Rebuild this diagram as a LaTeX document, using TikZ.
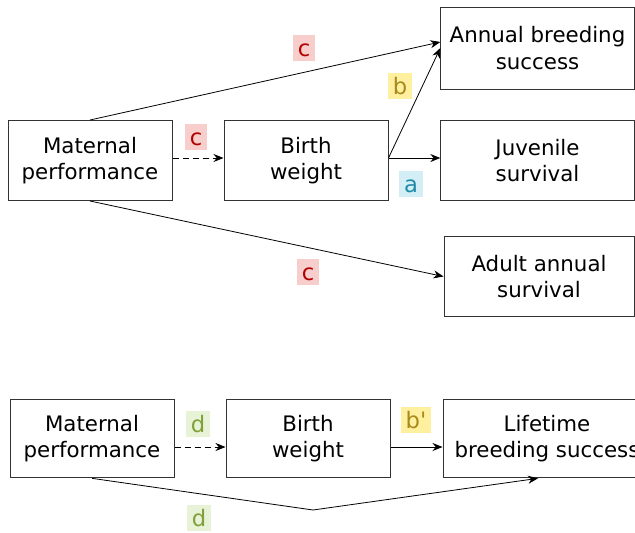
\documentclass[tikz,border=0pt]{standalone}
\usepackage{fontspec}
\newfontfamily\diafont{DejaVu Sans}
\usetikzlibrary{arrows.meta}

\definecolor{cred}{HTML}{B20000}
\definecolor{cpink}{HTML}{F8CECC}
\definecolor{bolive}{HTML}{A88A1C}
\definecolor{byellow}{HTML}{FFF0A0}
\definecolor{ateal}{HTML}{1E8CA8}
\definecolor{acyan}{HTML}{D4EEF6}
\definecolor{dgreen}{HTML}{7FA03A}
\definecolor{dlight}{HTML}{E8F2D6}

\tikzset{
  trait/.style={draw=black!80, line width=0.75pt, align=center, inner sep=0pt,
    minimum height=60pt, font=\diafont\fontsize{16}{20}\selectfont},
  path/.style={line width=0.6pt, -{Stealth[length=7.5pt, width=6pt]}},
  dashpath/.style={path, dash pattern=on 4.5pt off 3pt},
  tag/.style={font=\diafont\fontsize{17}{18}\selectfont, inner xsep=3.5pt,
    inner ysep=2.5pt, text height=13pt, text depth=1pt},
}

\begin{document}
\begin{tikzpicture}[x=0.75pt, y=-0.75pt]
    \useasboundingbox (0,0) rectangle (635,532);
    \clip (0,0) rectangle (635,532);

    % Annual traits
    \node[trait, minimum width=123pt] (mat1) at (90,160.5) {Maternal\\performance};
    \node[trait, minimum width=123pt] (birth1) at (306,160.5) {Birth\\weight};
    \node[trait, minimum width=145pt, minimum height=61.5pt] (annual) at (537.5,48) {Annual breeding\\success};
    \node[trait, minimum width=145pt] (juv) at (537.5,160.5) {Juvenile\\survival};
    \node[trait, minimum width=142.5pt] (adult) at (539,276.5) {Adult annual\\survival};

    \draw[dashpath] (mat1.east |- 0,158) -- (birth1.west |- 0,158);
    \draw[path] (mat1.north) -- ([yshift=4.5pt]annual.west);
    \draw[path] (birth1.east |- 0,158) -- ([yshift=0pt]annual.west);
    \draw[path] (birth1.east |- 0,158) -- (juv.west |- 0,158);
    \draw[path] (mat1.south) -- (adult.west);

    \node[tag, fill=cpink, text=cred] (c1) at (304,48) {c};
    \node[tag, fill=cpink, text=cred] (c2) at (196,137) {c};
    \node[tag, fill=byellow, text=bolive] (b) at (400,86) {b};
    \node[tag, fill=acyan, text=ateal] (a) at (411,184) {a};
    \node[tag, fill=cpink, text=cred] (c3) at (308,272) {c};

    % Lifetime traits
    \node[trait, minimum width=123pt, minimum height=59pt] (mat2) at (92,438.5) {Maternal\\performance};
    \node[trait, minimum width=123pt, minimum height=59pt] (birth2) at (308,438.5) {Birth\\weight};
    \node[trait, minimum width=156pt, minimum height=59pt] (life) at (547,438.5) {Lifetime\\breeding success};
    \coordinate (dip) at (313,510);

    \draw[dashpath] (mat2.east |- 0,447) -- (birth2.west |- 0,447);
    \draw[path] (birth2.east |- 0,447) -- (life.west |- 0,447);
    \draw[path] (mat2.south) -- (dip) -- (life.south -| 538,0);

    \node[tag, fill=dlight, text=dgreen] (d1) at (198,424) {d};
    \node[tag, fill=byellow, text=bolive] (bp) at (416,420) {b'};
    \node[tag, fill=dlight, text=dgreen] (d2) at (199,518) {d};
\end{tikzpicture}
\end{document}
